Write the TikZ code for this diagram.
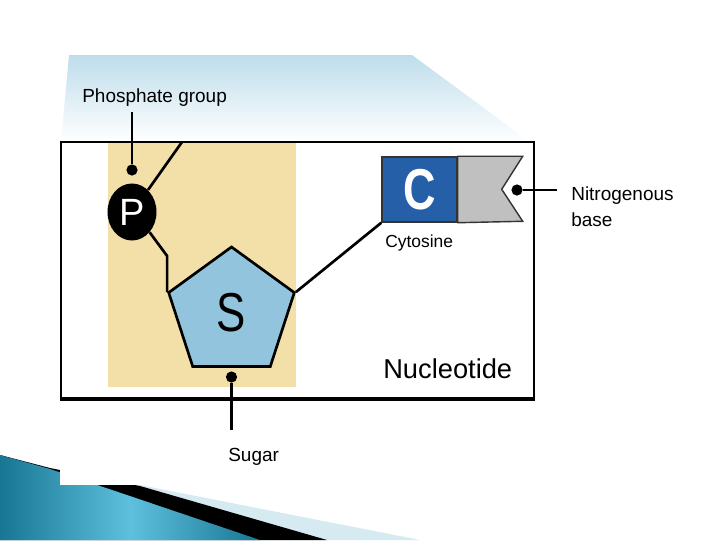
\documentclass[tikz,border=0pt]{standalone}
\usepackage{fontspec}
\setmainfont{Liberation Sans}
\usepackage{graphicx}
\usetikzlibrary{shapes.geometric}
\definecolor{skytop}{RGB}{190,221,235}
\definecolor{tan}{RGB}{243,223,168}
\definecolor{sugarblue}{RGB}{147,196,222}
\definecolor{cblue}{RGB}{37,95,168}
\definecolor{basegray}{RGB}{192,192,192}
\definecolor{tealdark}{RGB}{22,118,148}
\definecolor{teallight}{RGB}{95,192,222}
\definecolor{bandlight}{RGB}{214,234,242}
\begin{document}
\begin{tikzpicture}[x=0.025cm, y=-0.025cm,
  lbl/.style={font=\fontsize{13.5}{18.5}\selectfont, inner sep=0},
  wire/.style={line width=1.9pt},
  dot/.style={circle, fill=black, inner sep=0, minimum size=0.28cm}]
  \useasboundingbox (0,0) rectangle (720,540);
  % slide decoration
  \shade[top color=skytop, bottom color=white] (69,55) -- (412,55) -- (530,142) -- (61,142) -- cycle;
  \fill[bandlight] (0,455) -- (50,468) -- (140,485) -- (420,540) -- (0,540) -- cycle;
  \fill[black] (0,455) -- (50,468) -- (140,486) -- (327,540) -- (0,540) -- cycle;
  \shade[left color=tealdark, right color=tealdark, middle color=teallight]
    (0,455) -- (50,469) -- (260,540) -- (0,540) -- cycle;
  \fill[white] (60,430) rectangle (720,485);
  % frame
  \fill[white] (61,142) rectangle (534,399);
  \fill[tan] (108,142) rectangle (296,387);
  \draw[line width=2pt] (61,142) rectangle (534,399);
  \draw[line width=3.4pt] (60,399) -- (535,399);
  % phosphate
  \node[ellipse, fill=black, text=white, minimum width=1.225cm, minimum height=1.425cm,
    inner sep=0, font=\fontsize{27}{27}\selectfont] (P) at (132,212) {P};
  \node[dot] (pdot) at (132,170) {};
  \node[lbl, anchor=base west] (phos) at (82,102) {Phosphate group};
  \coordinate (ptop) at (132,112);
  \draw[wire] (ptop) -- (pdot);
  \coordinate (rim) at (182,142);
  \draw[wire] (P.54) -- (rim);
  % sugar
  \node[regular polygon, regular polygon sides=5, draw, line width=1.9pt, fill=sugarblue,
    minimum size=3.3cm, inner sep=0, font=\fontsize{39}{39}\selectfont] (S) at (231.5,313) {\scalebox{0.8}[1]{S}};
  \draw[wire] (P.-49) -- (S.corner 2 |- 0,256) -- (S.corner 2);
  \node[dot] (sdot) at (231.5,377) {};
  \coordinate (sfoot) at (231.5,430);
  \draw[wire] (sdot) -- (sfoot);
  \node[lbl, anchor=base west] (sugar) at (228,461) {Sugar};
  % base
  \node[fill=cblue, draw=black!80, line width=1pt, minimum width=1.875cm, minimum height=1.625cm,
    inner sep=0, text=white, font=\bfseries\fontsize{41}{41}\selectfont] (C) at (419.5,189.5) {\scalebox{0.78}[1]{C}};
  \draw[fill=basegray, draw=black!80, line width=1pt] (C.north east) -- ++(65,0) -- ++(-21,33)
    -- ++(21,32) -- (C.south east) -- cycle;
  \draw[wire] (S.corner 5) -- (C.south west);
  \node[lbl, anchor=base west, font=\fontsize{12.4}{14}\selectfont] (cyt) at (385,247) {Cytosine};
  \node[dot] (ndot) at (517,190) {};
  \coordinate (nend) at (557,190);
  \draw[wire] (ndot) -- (nend);
  \node[lbl, anchor=west, align=left] (nbase) at (571,207) {Nitrogenous\\base};
  \node[lbl, anchor=base west, font=\fontsize{19.4}{22}\selectfont] (nucl) at (383,378) {Nucleotide};
\end{tikzpicture}
\end{document}
